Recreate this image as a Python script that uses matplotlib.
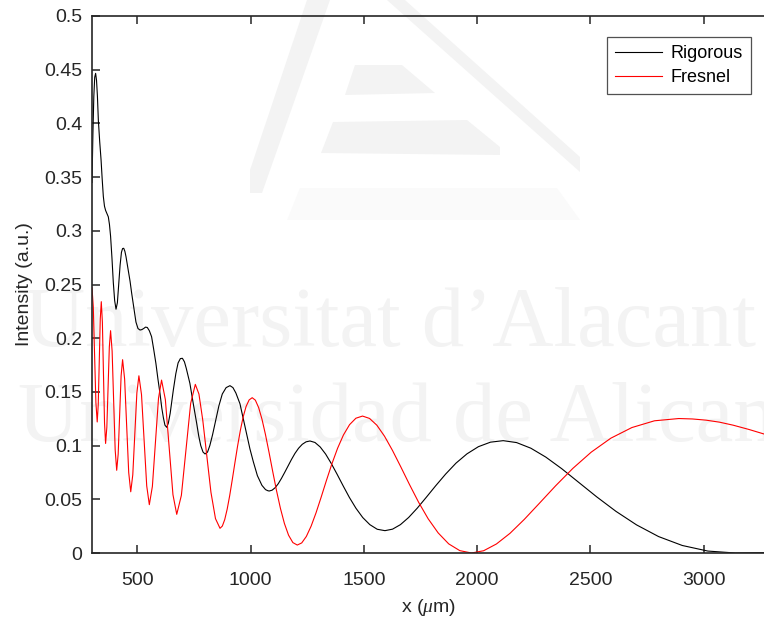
import numpy as np
import matplotlib
matplotlib.use("Agg")
import matplotlib.pyplot as plt
from matplotlib.patches import Polygon

# intensity along x, rigorous solution (black)
x_rig = [300, 304, 308, 312, 316, 320, 324, 328, 334, 340, 345, 350, 355, 360,
         366, 372, 377, 382, 388, 394, 400, 406, 412, 418, 424, 430, 435, 440,
         445, 450, 460, 468, 475, 485, 494, 503, 512, 520, 528, 536, 544, 553,
         563, 572, 582, 591, 600, 608, 615, 622, 630, 637, 645, 652, 659, 670,
         680, 690, 699, 708, 716, 724, 732, 747, 762, 771, 780, 790, 799, 810,
         820, 832, 843, 860, 875, 892, 909, 922, 935, 953, 975, 997, 1012,
         1030, 1050, 1066, 1076, 1082, 1095, 1108.4, 1122, 1136, 1150.4,
         1165.1, 1180.2, 1195.7, 1211.6, 1228, 1244.7, 1262, 1284.2, 1307.3,
         1331.2, 1355.9, 1381.6, 1408.3, 1436.1, 1464.9, 1495, 1526.3, 1558.9,
         1593, 1626.5, 1661.3, 1697.7, 1735.8, 1775.6, 1817.3, 1860.9, 1906.7,
         1954.9, 2005.5, 2058.8, 2115, 2174.1, 2236.7, 2302.9, 2373.2, 2448,
         2527.5, 2612.5, 2703.3, 2800.7, 2905.3, 3018.1, 3140, 3200, 3266]
i_rig = [0.345, 0.390, 0.425, 0.443, 0.4466, 0.440, 0.425, 0.403, 0.383, 0.366,
         0.348, 0.332, 0.323, 0.319, 0.316, 0.313, 0.306, 0.295, 0.275, 0.252,
         0.235, 0.227, 0.233, 0.250, 0.268, 0.280, 0.2835, 0.2837, 0.281, 0.276,
         0.2635, 0.253, 0.242, 0.228, 0.215, 0.209, 0.2076, 0.208, 0.209,
         0.2103, 0.210, 0.207, 0.2014, 0.190, 0.1766, 0.162, 0.1487, 0.135,
         0.126, 0.119, 0.117, 0.121, 0.130, 0.141, 0.1518, 0.167, 0.177, 0.181,
         0.1813, 0.178, 0.172, 0.165, 0.158, 0.139, 0.1208, 0.109, 0.100, 0.094,
         0.0922, 0.094, 0.100, 0.110, 0.1208, 0.137, 0.148, 0.154, 0.1558,
         0.154, 0.149, 0.139, 0.118, 0.097, 0.085, 0.072, 0.063, 0.059, 0.058,
         0.0577, 0.0585, 0.0608, 0.0645, 0.0694, 0.0750, 0.0810, 0.0870,
         0.0927, 0.0975, 0.1012, 0.1035, 0.1043, 0.1029, 0.0987, 0.0921,
         0.0834, 0.0734, 0.0626, 0.0517, 0.0417, 0.0330, 0.0264, 0.0221,
         0.0208, 0.0222, 0.0264, 0.0331, 0.0418, 0.0519, 0.0627, 0.0735,
         0.0837, 0.0923, 0.0990, 0.1032, 0.1046, 0.1028, 0.0976, 0.0893,
         0.0785, 0.0658, 0.0523, 0.0388, 0.0262, 0.0153, 0.0070, 0.0018, 0.0,
         0.0001, 0.0003]

# Fresnel approximation (red)
x_fre = [300, 305.7, 311.4, 317.2, 323, 327.5, 332, 336.5, 341, 345.8, 350.5,
         355.3, 360, 365.5, 371, 376.5, 382, 388.8, 395.5, 402.3, 409, 415.5,
         422, 428.5, 435, 444, 453, 462, 471, 480, 489, 498, 507, 518.5, 530,
         541.5, 553, 566.5, 580, 593.5, 607, 623.8, 640.5, 657.3, 674, 694.5,
         715, 735.5, 756, 772, 789, 807, 825, 845, 865, 875.3, 885.8, 896.6,
         907.7, 919, 930.6, 942.5, 954.8, 967.3, 980.2, 993.4, 1007, 1021,
         1035.5, 1050.3, 1065.6, 1081.3, 1097.5, 1114.3, 1131.5, 1149.2,
         1167.5, 1186.5, 1206, 1225.7, 1246, 1267.1, 1288.8, 1311.3, 1334.6,
         1358.8, 1383.9, 1409.8, 1436.8, 1464.8, 1494, 1524.9, 1557.2, 1590.9,
         1626, 1662.7, 1701.2, 1741.4, 1783.6, 1827.9, 1874.4, 1923.4, 1975,
         2028.5, 2085, 2144.8, 2208, 2275.1, 2346.4, 2422.4, 2503.4, 2590,
         2682.8, 2782.6, 2890, 2950, 3010, 3070, 3130, 3200, 3266]
i_fre = [0.247, 0.229, 0.1845, 0.140, 0.122, 0.138, 0.178, 0.218, 0.234, 0.215,
         0.168, 0.121, 0.102, 0.117, 0.1545, 0.192, 0.207, 0.188, 0.142, 0.096,
         0.077, 0.092, 0.1285, 0.165, 0.180, 0.162, 0.1185, 0.075, 0.057,
         0.0728, 0.111, 0.149, 0.165, 0.1475, 0.105, 0.0625, 0.045, 0.062,
         0.103, 0.144, 0.161, 0.1428, 0.0985, 0.0543, 0.036, 0.0537, 0.0965,
         0.1393, 0.157, 0.148, 0.1235, 0.090, 0.0565, 0.032, 0.023, 0.0251,
         0.0311, 0.0408, 0.0534, 0.0681, 0.0838, 0.0995, 0.1142, 0.1268,
         0.1365, 0.1425, 0.1446, 0.1423, 0.1354, 0.1245, 0.1103, 0.0938,
         0.0760, 0.0582, 0.0417, 0.0275, 0.0166, 0.0097, 0.0074, 0.0094,
         0.0154, 0.0250, 0.0374, 0.0519, 0.0675, 0.0830, 0.0975, 0.1099,
         0.1195, 0.1255, 0.1275, 0.1253, 0.1190, 0.1088, 0.0956, 0.0803,
         0.0638, 0.0473, 0.0319, 0.0187, 0.0085, 0.0022, 0.0, 0.0021, 0.0084,
         0.0183, 0.0313, 0.0464, 0.0626, 0.0788, 0.0939, 0.1069, 0.1168,
         0.1231, 0.1252, 0.1248, 0.1237, 0.1218, 0.1190, 0.1150, 0.1108]

xticks = [500, 1000, 1500, 2000, 2500, 3000]
yticks = [0, 0.05, 0.1, 0.15, 0.2, 0.25, 0.3, 0.35, 0.4, 0.45, 0.5]
ylabels = ['0', '0.05', '0.1', '0.15', '0.2', '0.25', '0.3', '0.35', '0.4', '0.45', '0.5']

plt.rcParams['font.family'] = ['Liberation Sans', 'DejaVu Sans']
plt.rcParams['mathtext.fontset'] = 'custom'
plt.rcParams['mathtext.it'] = 'Liberation Serif:italic'
dark = '#262626'

fig = plt.figure(figsize=(7.64, 6.22), dpi=100)
W, H = 764.0, 622.0

# page watermark behind everything
wm = '#f3f3f3'
fig.text(24 / W, 1 - 346 / H, "Universitat d\u2019Alacant", family='Liberation Serif',
         fontsize=61, color=wm, ha='left', va='baseline', zorder=-5)
fig.text(18 / W, 1 - 441 / H, "Universidad de Alicante", family='Liberation Serif',
         fontsize=61, color=wm, ha='left', va='baseline', zorder=-5)
logo = [
    ([(307, 0), (330, 0), (262, 193), (250, 193), (250, 170)], '#f3f3f3'),
    ([(387, 0), (405, 0), (580, 157), (580, 172)], '#f3f3f3'),
    ([(355, 65), (402, 65), (435, 93), (345, 95)], '#f3f3f3'),
    ([(333, 122), (467, 120), (500, 147), (500, 155), (321, 153)], '#f3f3f3'),
    ([(300, 188), (557, 188), (580, 220), (287, 220)], '#fafafa'),
]
for pts, col in logo:
    fig.patches.append(Polygon([(px / W, 1 - py / H) for px, py in pts],
                               closed=True, transform=fig.transFigure,
                               facecolor=col, edgecolor='none', zorder=-5))

ax = fig.add_axes([92 / W, 1 - 553 / H, 1 - 92 / W, (553 - 16) / H])
ax.set_zorder(1)
ax.patch.set_alpha(0)

ax.plot(x_rig, i_rig, color='black', lw=0.8, label='Rigorous')
ax.plot(x_fre, i_fre, color='red', lw=0.8, label='Fresnel')

ax.set_xlim(300, 3266)
ax.set_ylim(0, 0.5)
ax.set_xticks(xticks)
ax.set_xticklabels([str(t) for t in xticks])
ax.set_yticks(yticks)
ax.set_yticklabels(ylabels)
ax.tick_params(direction='in', length=5.5, width=1.1, colors=dark,
               labelsize=14, top=True, right=False, pad=7)
ax.tick_params(axis='x', pad=13.5)
for side in ['left', 'bottom', 'top']:
    ax.spines[side].set_color(dark)
    ax.spines[side].set_linewidth(1.2)
ax.spines['right'].set_visible(False)

ax.set_xlabel(r'x ($\mu$m)', fontsize=14, color=dark, labelpad=6)
ax.set_ylabel('Intensity (a.u.)', fontsize=14, color=dark, labelpad=8)

leg = ax.legend(loc='upper right', bbox_to_anchor=(751 / W, 1 - 37 / H),
                bbox_transform=fig.transFigure, fontsize=13, frameon=True,
                fancybox=False, handlelength=2.6, handletextpad=0.5,
                borderpad=0.45, labelspacing=0.4, borderaxespad=0)
leg.get_frame().set_edgecolor(dark)
leg.get_frame().set_linewidth(0.9)

fig.savefig('out.png', dpi=100)
